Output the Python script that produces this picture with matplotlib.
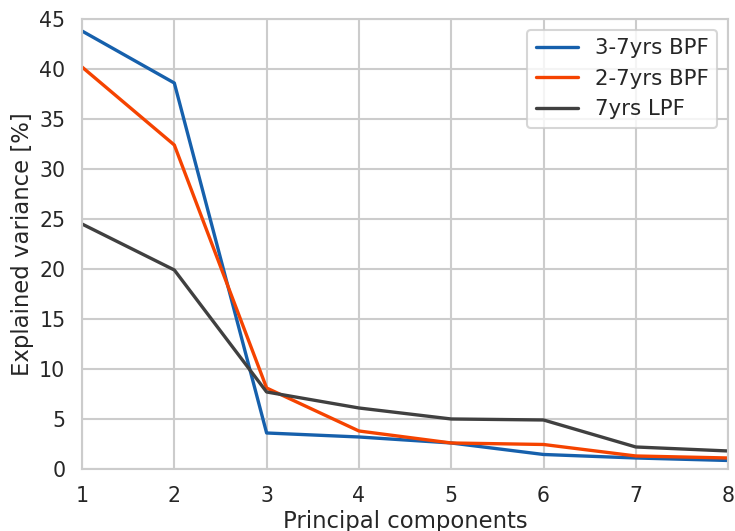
import numpy as np
import matplotlib
matplotlib.use("Agg")
import matplotlib.pyplot as plt
import seaborn as sns

sns.set_theme(style="whitegrid")
plt.rcParams['font.family'] = ['DejaVu Sans']
plt.rcParams['grid.linewidth'] = 1.5
plt.rcParams['axes.linewidth'] = 1.5

pcs = [1, 2, 3, 4, 5, 6, 7, 8]
bpf_3_7 = [43.8, 38.6, 3.6, 3.2, 2.6, 1.45, 1.1, 0.85]
bpf_2_7 = [40.2, 32.4, 8.1, 3.8, 2.6, 2.45, 1.3, 1.1]
lpf_7 = [24.5, 19.9, 7.7, 6.1, 5.0, 4.9, 2.2, 1.8]

fig = plt.figure(figsize=(7.35, 5.31), dpi=100)
ax = fig.add_axes([0.1116, 0.1168, 0.879, 0.8474])

ax.plot(pcs, bpf_3_7, color='#1660ac', lw=2.4, label='3-7yrs BPF')
ax.plot(pcs, bpf_2_7, color='#f54300', lw=2.4, label='2-7yrs BPF')
ax.plot(pcs, lpf_7, color='#404040', lw=2.4, label='7yrs LPF')

ax.set_xlim(1, 8)
ax.set_ylim(0, 45)
ax.set_yticks(np.arange(0, 46, 5))
ax.set_xlabel('Principal components', fontsize=16.4, labelpad=3)
ax.set_ylabel('Explained variance [%]', fontsize=16.4, labelpad=4)
ax.tick_params(labelsize=14.8, length=0, pad=12)
leg = ax.legend(loc='upper right', fontsize=15.3)
leg.get_frame().set_linewidth(1.5)

fig.savefig('out.png', dpi=100)
